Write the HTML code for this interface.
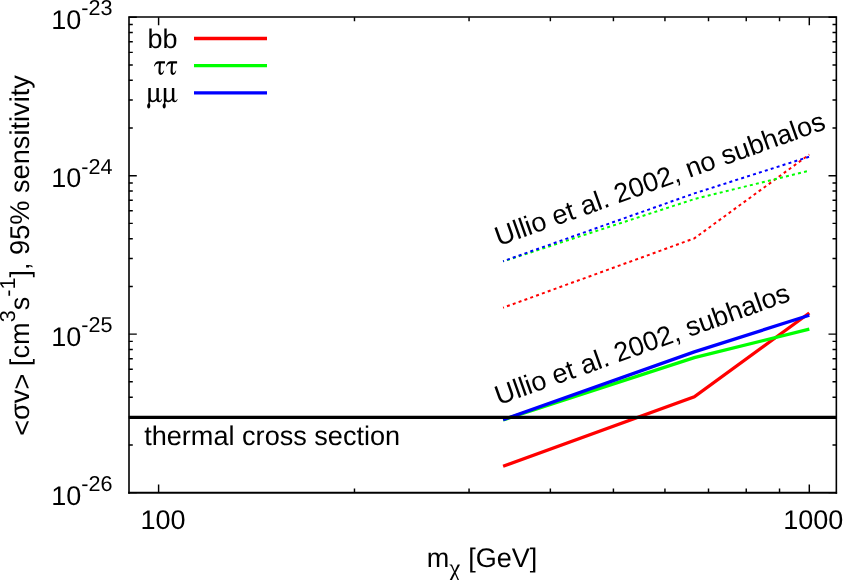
<!DOCTYPE html>
<html><head><meta charset="utf-8"><title>plot</title>
<style>html,body{margin:0;padding:0;background:#fff;overflow:hidden;}svg{display:block;will-change:transform;}text{text-rendering:geometricPrecision;font-family:"Liberation Sans",sans-serif;fill:#000;}.sy{font-family:"Liberation Serif",serif;}</style>
</head><body>
<svg width="844" height="580" viewBox="0 0 844 580">
<rect width="844" height="580" fill="#fff"/>
<path d="M128.8 492.60h8M836.5 492.60h-8M128.8 444.90h4M836.5 444.90h-4M128.8 416.99h4M836.5 416.99h-4M128.8 397.19h4M836.5 397.19h-4M128.8 381.84h4M836.5 381.84h-4M128.8 369.29h4M836.5 369.29h-4M128.8 358.68h4M836.5 358.68h-4M128.8 349.49h4M836.5 349.49h-4M128.8 341.38h4M836.5 341.38h-4M128.8 334.13h8M836.5 334.13h-8M128.8 286.43h4M836.5 286.43h-4M128.8 258.53h4M836.5 258.53h-4M128.8 238.73h4M836.5 238.73h-4M128.8 223.37h4M836.5 223.37h-4M128.8 210.82h4M836.5 210.82h-4M128.8 200.21h4M836.5 200.21h-4M128.8 191.02h4M836.5 191.02h-4M128.8 182.92h4M836.5 182.92h-4M128.8 175.67h8M836.5 175.67h-8M128.8 127.96h4M836.5 127.96h-4M128.8 100.06h4M836.5 100.06h-4M128.8 80.26h4M836.5 80.26h-4M128.8 64.90h4M836.5 64.90h-4M128.8 52.36h4M836.5 52.36h-4M128.8 41.75h4M836.5 41.75h-4M128.8 32.56h4M836.5 32.56h-4M128.8 24.45h4M836.5 24.45h-4M128.8 17.20h8M836.5 17.20h-8M158.60 492.6v-8M158.60 17.2v8M354.48 492.6v-4M354.48 17.2v4M469.06 492.6v-4M469.06 17.2v4M550.36 492.6v-4M550.36 17.2v4M613.42 492.6v-4M613.42 17.2v4M664.94 492.6v-4M664.94 17.2v4M708.51 492.6v-4M708.51 17.2v4M746.24 492.6v-4M746.24 17.2v4M779.53 492.6v-4M779.53 17.2v4M809.30 492.6v-8M809.30 17.2v8" stroke="#000" stroke-width="1.45" fill="none"/>
<polyline points="503.1,466.2 694.3,396.9 809.3,313.0" stroke="#ff0000" stroke-width="3.3" fill="none" stroke-linejoin="miter"/>
<polyline points="503.1,419.9 694.3,357.6 809.3,329.2" stroke="#00ff00" stroke-width="3.3" fill="none" stroke-linejoin="miter"/>
<polyline points="503.1,419.7 694.3,351.9 809.3,315.2" stroke="#0000ff" stroke-width="3.3" fill="none" stroke-linejoin="miter"/>
<polyline points="503.1,307.7 694.3,238.4 809.3,154.5" stroke="#ff0000" stroke-width="2" stroke-dasharray="3 3.2" stroke-dashoffset="2.1" fill="none"/>
<polyline points="503.1,261.4 694.3,199.1 809.3,170.7" stroke="#00ff00" stroke-width="2" stroke-dasharray="3 3.2" stroke-dashoffset="2.1" fill="none"/>
<polyline points="503.1,261.2 694.3,193.4 809.3,156.7" stroke="#0000ff" stroke-width="2" stroke-dasharray="3 3.2" stroke-dashoffset="2.1" fill="none"/>
<path d="M128.8 417.3H836.5" stroke="#000" stroke-width="3.3" fill="none"/>
<path d="M129 16.30V493.80M836.35 16.30V493.80M128.2 17H837.1" stroke="#000" stroke-width="1.6" fill="none"/>
<path d="M128.2 492.85H837.1" stroke="#000" stroke-width="2" fill="none"/>
<path d="M194 38.5H267" stroke="#ff0000" stroke-width="3.3" fill="none"/>
<path d="M194 65.7H267" stroke="#00ff00" stroke-width="3.3" fill="none"/>
<path d="M194 92.9H267" stroke="#0000ff" stroke-width="3.3" fill="none"/>
<text x="177.5" y="47.5" font-size="27" text-anchor="end">bb</text>
<path id="tau" d="M11.2 0.2L11.2 2.5L7.2 2.5C7 5 6.7 8 6.8 10.2C6.9 11.8 7.6 12.2 8.3 11.6C9 11 9.5 10.2 10 9.3L10.4 9.6C9.8 11.8 8.8 13.8 7 13.8C5.2 13.8 4.5 12.2 4.6 10C4.7 7.5 5 5 5.2 2.5L4 2.6C2.4 2.8 1.4 3.8 0.6 5.3L0.1 5.1C0.9 2.2 2.2 0.3 4.2 0.2Z" transform="translate(153.8,61.1)"/><path d="M11.2 0.2L11.2 2.5L7.2 2.5C7 5 6.7 8 6.8 10.2C6.9 11.8 7.6 12.2 8.3 11.6C9 11 9.5 10.2 10 9.3L10.4 9.6C9.8 11.8 8.8 13.8 7 13.8C5.2 13.8 4.5 12.2 4.6 10C4.7 7.5 5 5 5.2 2.5L4 2.6C2.4 2.8 1.4 3.8 0.6 5.3L0.1 5.1C0.9 2.2 2.2 0.3 4.2 0.2Z" transform="translate(165.9,61.1)"/>
<path id="mu" d="M0.9 0L3.4 0L3.4 9.8C3.6 11.6 4.4 12.4 5.6 12.4C7 12.4 8.4 11.4 9 10L9 0L11.4 0L11.4 10.8C11.4 12 11.8 12.6 12.4 12.6C13.2 12.6 13.8 11.8 14.2 10.8L14.7 11.1C14.2 12.8 13.2 14.2 11.8 14.2C10.4 14.2 9.4 13.4 9.1 12C8 13.4 6.8 14.2 5.4 14.2C4.4 14.2 3.7 13.9 3.2 13.4C2.8 13.8 2.4 14 2.3 14.4C2.3 15.5 2.9 16.3 2.9 17.6C2.9 19.2 2.2 20.4 1.3 20.4C0.4 20.4 -0.3 19.2 -0.3 17.6C-0.3 16.3 1.1 15.5 1.1 14.4C1 13.8 0.9 13.2 0.9 12.5Z" transform="translate(147.4,88.1)"/><path d="M0.9 0L3.4 0L3.4 9.8C3.6 11.6 4.4 12.4 5.6 12.4C7 12.4 8.4 11.4 9 10L9 0L11.4 0L11.4 10.8C11.4 12 11.8 12.6 12.4 12.6C13.2 12.6 13.8 11.8 14.2 10.8L14.7 11.1C14.2 12.8 13.2 14.2 11.8 14.2C10.4 14.2 9.4 13.4 9.1 12C8 13.4 6.8 14.2 5.4 14.2C4.4 14.2 3.7 13.9 3.2 13.4C2.8 13.8 2.4 14 2.3 14.4C2.3 15.5 2.9 16.3 2.9 17.6C2.9 19.2 2.2 20.4 1.3 20.4C0.4 20.4 -0.3 19.2 -0.3 17.6C-0.3 16.3 1.1 15.5 1.1 14.4C1 13.8 0.9 13.2 0.9 12.5Z" transform="translate(162.9,88.1)"/>
<text x="81.2" y="505.1" font-size="27" text-anchor="end">10</text>
<text x="81.2" y="491.2" font-size="21.6">-26</text>
<text x="81.2" y="346.1" font-size="27" text-anchor="end">10</text>
<text x="81.2" y="332.4" font-size="21.6">-25</text>
<text x="81.2" y="187.1" font-size="27" text-anchor="end">10</text>
<text x="81.2" y="173.5" font-size="21.6">-24</text>
<text x="81.2" y="28.7" font-size="27" text-anchor="end">10</text>
<text x="81.2" y="15.2" font-size="21.6">-23</text>
<text x="163.1" y="528.5" font-size="27" text-anchor="middle">100</text>
<text x="813.3" y="528.5" font-size="27" text-anchor="middle">1000</text>
<text x="426.7" y="567.2" font-size="27">m<tspan class="sy" font-size="25" dy="8.5">χ</tspan><tspan dy="-8.5" dx="0.5"> [GeV]</tspan></text>
<text transform="translate(28.7,435.8) rotate(-90)" font-size="27.18"><tspan dy="2.6">&lt;</tspan><tspan dy="-2.6">σv</tspan><tspan dy="2.6">&gt;</tspan><tspan dy="-2.6"> [cm</tspan><tspan font-size="21.6" dy="-13.4">3</tspan><tspan dy="13.4">s</tspan><tspan font-size="21.6" dy="-13.4">-1</tspan><tspan dy="13.4">], 95% sensitivity</tspan></text>
<text x="144.2" y="444.6" font-size="27.1">thermal cross section</text>
<text transform="translate(498.8,246.2) rotate(-19.7)" font-size="27.15">Ullio et al. 2002, no subhalos</text>
<text transform="translate(498.8,405.2) rotate(-19.7)" font-size="27.15">Ullio et al. 2002, subhalos</text>
</svg></body></html>
